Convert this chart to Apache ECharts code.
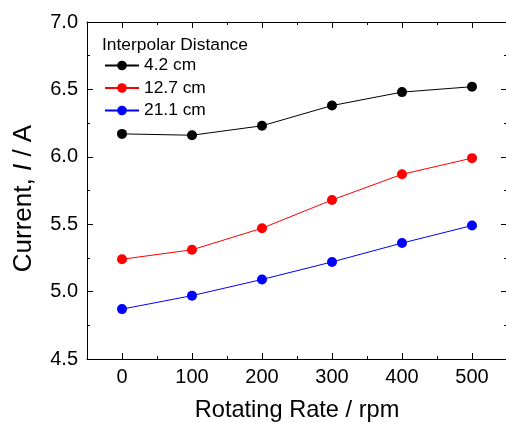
<!DOCTYPE html>
<html><head><meta charset="utf-8">
<script src="https://cdn.jsdelivr.net/npm/echarts@6/dist/echarts.min.js"></script>
<style>html,body{margin:0;padding:0;background:#fff}#c{width:506px;height:423px}</style>
</head><body><div id="c"></div>
<script>
var rates = [0, 100, 200, 300, 400, 500];
var seriesNames = ['4.2 cm', '12.7 cm', '21.1 cm'];
var d42 = [6.17, 6.16, 6.23, 6.38, 6.48, 6.52];
var d127 = [5.24, 5.31, 5.47, 5.68, 5.87, 5.99];
var d211 = [4.87, 4.97, 5.09, 5.22, 5.36, 5.49];
var xTicks = [0, 100, 200, 300, 400, 500];
var colors = ['#000000', '#ff0000', '#0000ff'];
var F = 'Liberation Sans, Arial, sans-serif';

function pairs(v){ return rates.map(function(r,i){ return [r, v[i]]; }); }

var chart = echarts.init(document.getElementById('c'));
var baseX = {
  type: 'value', min: -50, max: 550,
  axisLine: {show: true, onZero: false, lineStyle: {color: '#000', width: 1}},
  splitLine: {show: false}
};
function xMajor(pos, labels){
  return Object.assign({}, baseX, {
    position: pos,
    axisTick: {show: true, inside: true, length: 6, customValues: xTicks, lineStyle: {color: '#000'}},
    axisLabel: {show: labels, customValues: xTicks, color: '#000', fontSize: 20, fontFamily: F, margin: 8},
    name: labels ? 'Rotating Rate / rpm' : '',
    nameLocation: 'middle', nameGap: 39,
    nameTextStyle: {color: '#000', fontSize: 23.6, fontFamily: F}
  });
}
function xMinor(pos){
  return Object.assign({}, baseX, {
    position: pos, interval: 50,
    axisLine: {show: false},
    axisTick: {show: true, inside: true, length: 3, lineStyle: {color: '#000'}},
    axisLabel: {show: false}
  });
}
function yAx(pos, labels){
  return {
    type: 'value', min: 4.5, max: 7.0, interval: 0.5, position: pos,
    axisLine: {show: true, onZero: false, lineStyle: {color: '#000', width: 1}},
    axisTick: {show: true, inside: true, length: 6, lineStyle: {color: '#000'}},
    minorTick: {show: true, splitNumber: 2, length: 3, lineStyle: {color: '#000'}},
    splitLine: {show: false},
    axisLabel: {show: labels, color: '#000', fontSize: 20, fontFamily: F, margin: 9,
      formatter: function(v){ return v.toFixed(1); }},
    name: labels ? '{n|Current, }{i|I}{n| / A}' : '',
    nameLocation: 'middle', nameGap: 50,
    nameTextStyle: {padding: [0, 16, 0, 0], rich: {
      n: {color: '#000', fontSize: 26, fontFamily: F},
      i: {color: '#000', fontSize: 26, fontFamily: F, fontStyle: 'italic'}
    }}
  };
}

var data = [d42, d127, d211];
chart.setOption({
  animation: false,
  backgroundColor: '#fff',
  title: {text: 'Interpolar Distance', left: 102, top: 37, padding: 0,
    textStyle: {color: '#000', fontSize: 17.4, fontWeight: 'normal', fontFamily: F}},
  legend: {
    orient: 'vertical', left: 104, top: 57, padding: 0,
    itemWidth: 34, itemHeight: 12, itemGap: 5.5, itemTextGap: 10,
    textStyle: {color: '#000', fontSize: 17.4, fontFamily: F},
    data: seriesNames
  },
  grid: {left: 87, right: -1, top: 22, bottom: 64, outerBoundsMode: 'none', containLabel: false},
  xAxis: [xMajor('bottom', true), xMinor('bottom'), xMajor('top', false), xMinor('top')],
  yAxis: [yAx('left', true), yAx('right', false)],
  series: seriesNames.map(function(n, k){
    return {
      name: n, type: 'line', xAxisIndex: 0, yAxisIndex: 0,
      data: pairs(data[k]),
      symbol: 'circle', symbolSize: 10,
      itemStyle: {color: colors[k]},
      lineStyle: {color: colors[k], width: 1}
    };
  })
});
</script></body></html>
